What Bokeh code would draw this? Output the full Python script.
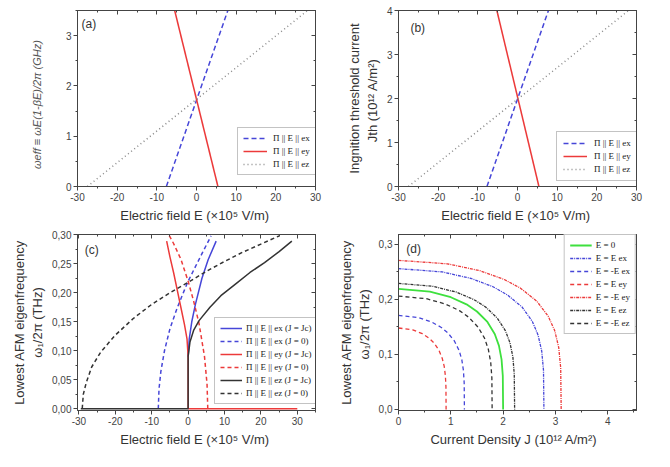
from bokeh.plotting import figure
from bokeh.layouts import gridplot
from bokeh.models import (Range1d, LinearAxis, SingleIntervalTicker, CustomJSTickFormatter,
                          Label)
from bokeh.embed import file_html
from bokeh.resources import INLINE

# ---------------- data ----------------
# (a) effective frequency (GHz) vs E
a_x_E = [-7.6, 7.9]
a_x_w = [0.0, 3.5]
a_y_E = [-5.5, 5.4]
a_y_w = [3.5, 0.0]
a_z_E = [-27.5, 28.0]
a_z_w = [0.0, 3.5]

# (b) ignition threshold current vs E
b_x_E = [-7.7, 7.8]
b_x_J = [0.0, 4.0]
b_y_E = [-5.2, 5.4]
b_y_J = [4.0, 0.0]
b_z_E = [-27.5, 28.0]
b_z_J = [0.0, 4.0]

# (c) lowest AFM eigenfrequency vs E
c_xJc_E = [0.0, 0.3, 1.0, 2.0, 3.8, 5.5, 7.7]
c_xJc_w = [0.09, 0.12, 0.15, 0.18, 0.225, 0.257, 0.289]
c_x0_E = [-8.2, -8.0, -7.5, -6.5, -5.0, -3.0, -1.0, 0.0, 2.0, 4.0, 6.3]
c_x0_w = [0.0, 0.034, 0.064, 0.10, 0.138, 0.174, 0.205, 0.22, 0.245, 0.27, 0.298]
c_yJc_E = [30.0, 0.0, 0.0, -0.3, -1.0, -2.0, -3.0, -4.0, -5.0, -5.9]
c_yJc_w = [0.0, 0.0, 0.09, 0.12, 0.145, 0.175, 0.205, 0.235, 0.262, 0.289]
c_y0_E = [5.4, 5.2, 4.5, 3.0, 1.5, 0.0, -2.0, -4.0, -5.3]
c_y0_w = [0.0, 0.042, 0.09, 0.147, 0.186, 0.22, 0.258, 0.285, 0.30]
c_zJc_E = [-29.5, 0.0, 0.0, 0.5, 1.5, 3.0, 6.0, 9.0, 13.0, 17.0, 21.0, 25.0, 28.5]
c_zJc_w = [0.0, 0.0, 0.09, 0.115, 0.135, 0.152, 0.175, 0.195, 0.215, 0.235, 0.252, 0.271, 0.289]
c_z0_E = [-29.1, -28.8, -28.0, -26.5, -24.0, -20.0, -15.0, -10.0, -5.0, 0.0, 5.0, 10.0, 15.0, 20.0, 25.0]
c_z0_w = [0.0, 0.025, 0.045, 0.072, 0.098, 0.127, 0.156, 0.18, 0.2, 0.218, 0.237, 0.254, 0.27, 0.284, 0.298]

# (d) lowest AFM eigenfrequency vs current density
d_E0_J = [0, 0.6, 1.0, 1.3, 1.5, 1.7, 1.84, 1.92, 1.97, 1.994, 2.0]
d_E0_w = [0.219, 0.214, 0.204, 0.191, 0.178, 0.159, 0.137, 0.116, 0.091, 0.061, 0.0]
d_px_J = [0, 0.834, 1.39, 1.807, 2.085, 2.363, 2.558, 2.669, 2.738, 2.772, 2.78]
d_px_w = [0.256, 0.250, 0.238, 0.223, 0.208, 0.186, 0.160, 0.135, 0.106, 0.071, 0.0]
d_mx_J = [0, 0.378, 0.63, 0.819, 0.945, 1.071, 1.159, 1.21, 1.241, 1.256, 1.26]
d_mx_w = [0.171, 0.167, 0.159, 0.149, 0.139, 0.124, 0.107, 0.0905, 0.071, 0.0476, 0.0]
d_py_J = [0, 0.273, 0.455, 0.592, 0.683, 0.774, 0.837, 0.874, 0.896, 0.907, 0.91]
d_py_w = [0.148, 0.1446, 0.1377, 0.129, 0.1204, 0.1074, 0.0926, 0.0783, 0.0615, 0.0412, 0.0]
d_my_J = [0, 0.933, 1.555, 2.022, 2.333, 2.644, 2.861, 2.986, 3.063, 3.101, 3.11]
d_my_w = [0.271, 0.2647, 0.2522, 0.2362, 0.2204, 0.1967, 0.1696, 0.1434, 0.1126, 0.0754, 0.0]
d_pz_J = [0, 0.666, 1.11, 1.443, 1.665, 1.887, 2.042, 2.131, 2.187, 2.213, 2.22]
d_pz_w = [0.229, 0.2237, 0.2131, 0.1996, 0.1862, 0.1662, 0.1434, 0.1212, 0.0951, 0.0637, 0.0]
d_mz_J = [0, 0.537, 0.895, 1.164, 1.343, 1.522, 1.647, 1.718, 1.763, 1.785, 1.79]
d_mz_w = [0.206, 0.2012, 0.1917, 0.1796, 0.1675, 0.1495, 0.129, 0.109, 0.0856, 0.0573, 0.0]

lab_ab = ["Π || E || ex", "Π || E || ey", "Π || E || ez"]
lab_c = ["Π || E || ex (J = Jc)", "Π || E || ex (J = 0)",
         "Π || E || ey (J = Jc)", "Π || E || ey (J = 0)",
         "Π || E || ez (J = Jc)", "Π || E || ez (J = 0)"]
lab_d = ["E = 0", "E = E ex", "E = -E ex", "E = E ey", "E = -E ey", "E = E ez", "E = -E ez"]

BLUE = "#4646d8"
RED = "#ec3a3a"
GRAY = "#8a8a8a"
BLACK = "#333333"
GREEN = "#3ee03e"
FONT = "Liberation Sans"
SERIF = "Liberation Serif"


def make_fig(xr, yr, w, h, bl, br, bt, bb, xint, yint, xlabel, ylabel, xfmt, yfmt):
    p = figure(width=w, height=h, x_range=Range1d(*xr), y_range=Range1d(*yr),
               output_backend="svg", toolbar_location=None,
               min_border_left=bl, min_border_right=br, min_border_top=bt,
               min_border_bottom=bb)
    p.grid.visible = False
    p.outline_line_color = "#444444"
    p.background_fill_color = "white"
    xt = SingleIntervalTicker(interval=xint, num_minor_ticks=2)
    yt = SingleIntervalTicker(interval=yint, num_minor_ticks=2)
    p.xaxis.ticker = xt
    p.yaxis.ticker = yt
    for ax in (p.xaxis[0], p.yaxis[0]):
        ax.axis_line_color = "#444444"
        ax.major_tick_line_color = "#444444"
        ax.minor_tick_line_color = "#444444"
        ax.major_tick_out = 4
        ax.major_tick_in = 0
        ax.minor_tick_out = 2
        ax.minor_tick_in = 0
        ax.major_label_text_font = FONT
        ax.major_label_text_font_size = "10px"
        ax.major_label_text_color = "#444444"
        ax.axis_label_text_font = FONT
        ax.axis_label_text_font_style = "normal"
        ax.axis_label_text_color = "#333333"
        ax.axis_label_text_font_size = "13px"
        ax.major_label_standoff = 2
    p.xaxis.axis_label = xlabel
    p.yaxis.axis_label = ylabel
    p.xaxis.axis_label_standoff = 4
    p.yaxis.axis_label_standoff = 4
    p.xaxis.formatter = CustomJSTickFormatter(code=xfmt)
    p.yaxis.formatter = CustomJSTickFormatter(code=yfmt)
    for loc, tk in (("above", xt), ("right", yt)):
        ax = LinearAxis(ticker=tk, formatter=CustomJSTickFormatter(code="return ''"),
                        major_label_standoff=0,
                        major_tick_in=4, major_tick_out=0, minor_tick_in=2, minor_tick_out=0,
                        axis_line_color="#444444", major_tick_line_color="#444444",
                        minor_tick_line_color="#444444")
        p.add_layout(ax, loc)
    return p


def style_legend(p, loc, glyph_w=22, standoff=4, pad=5):
    lg = p.legend[0]
    lg.location = loc
    lg.label_text_font = SERIF
    lg.label_text_font_size = "9px"
    lg.label_text_color = "#222222"
    lg.glyph_width = glyph_w
    lg.glyph_height = 10
    lg.label_height = 10
    lg.spacing = 3
    lg.padding = pad
    lg.margin = 0
    lg.label_standoff = standoff
    lg.border_line_color = "#888888"
    lg.border_line_width = 1
    lg.background_fill_alpha = 1.0


def panel_label(p, x, y, t):
    p.add_layout(Label(x=x, y=y, text=t, text_font=FONT, text_font_size="12px",
                       text_baseline="top", text_color="#333333"))


XLAB = "Electric field  E (×10⁵ V/m)"
INTFMT = "return tick.toFixed(0)"

# (a)
pa = make_fig((-30, 30), (0, 3.5), 335, 230, 77, 20, 10, 44, 10, 1, XLAB,
              "ωeff ≡ ωE(1-βE)/2π     (GHz)", INTFMT, INTFMT)
pa.yaxis.axis_label_text_font_size = "11px"
pa.yaxis.axis_label_text_font_style = "italic"
pa.yaxis.axis_label_text_color = "#555555"
pa.yaxis.axis_label_standoff = 20
pa.line(a_x_E, a_x_w, color=BLUE, line_width=1.5, line_dash="5 3", legend_label=lab_ab[0])
pa.line(a_y_E, a_y_w, color=RED, line_width=1.5, legend_label=lab_ab[1])
pa.line(a_z_E, a_z_w, color=GRAY, line_width=1.5, line_dash="1 3", legend_label=lab_ab[2])
style_legend(pa, (160, 11), glyph_w=24, standoff=6)
panel_label(pa, -29, 3.38, "(a)")

# (b)
pb = make_fig((-30, 30), (0, 4), 335, 230, 53, 34, 10, 44, 10, 1, XLAB,
              "Ingnition threshold current\nJth  (10¹² A/m²)", INTFMT, INTFMT)
pb.line(b_x_E, b_x_J, color=BLUE, line_width=1.5, line_dash="5 3", legend_label=lab_ab[0])
pb.line(b_y_E, b_y_J, color=RED, line_width=1.5, legend_label=lab_ab[1])
pb.line(b_z_E, b_z_J, color=GRAY, line_width=1.5, line_dash="1 3", legend_label=lab_ab[2])
style_legend(pb, (158, 5), glyph_w=24, standoff=7, pad=6)
panel_label(pb, -27, 3.76, "(b)")

# (c)
pc = make_fig((-30.4, 35), (-0.003, 0.3005), 335, 237, 76, 20, 3, 57, 10, 0.05, XLAB,
              "Lowest AFM eigenfrequency\nω₁/2π (THz)", INTFMT,
              "return tick.toFixed(2).replace('.', ',')")
pc.line(c_xJc_E, c_xJc_w, color=BLUE, line_width=1.5, legend_label=lab_c[0])
pc.line(c_x0_E, c_x0_w, color=BLUE, line_width=1.5, line_dash="4 3", legend_label=lab_c[1])
pc.line(c_yJc_E, c_yJc_w, color=RED, line_width=1.5, legend_label=lab_c[2])
pc.line(c_y0_E, c_y0_w, color=RED, line_width=1.5, line_dash="4 3", legend_label=lab_c[3])
pc.line(c_zJc_E, c_zJc_w, color=BLACK, line_width=1.5, legend_label=lab_c[4])
pc.line(c_z0_E, c_z0_w, color=BLACK, line_width=1.5, line_dash="4 3", legend_label=lab_c[5])
style_legend(pc, (137, 6))
panel_label(pc, -28.4, 0.285, "(c)")

# (d)
pd_ = make_fig((0, 4.55), (-0.002, 0.318), 335, 237, 59, 33, 4, 57, 1, 0.1,
               "Current Density  J  (10¹² A/m²)",
               "Lowest AFM eigenfrequency\nω₁/2π  (THz)", INTFMT,
               "return tick.toFixed(1).replace('.', ',')")
pd_.line(d_E0_J, d_E0_w, color=GREEN, line_width=1.8, legend_label=lab_d[0])
pd_.line(d_px_J, d_px_w, color=BLUE, line_width=1.3, line_dash="3 1 1 1", legend_label=lab_d[1])
pd_.line(d_mx_J, d_mx_w, color=BLUE, line_width=1.3, line_dash="4 3", legend_label=lab_d[2])
pd_.line(d_py_J, d_py_w, color=RED, line_width=1.3, line_dash="4 3", legend_label=lab_d[3])
pd_.line(d_my_J, d_my_w, color=RED, line_width=1.3, line_dash="3 1 1 1", legend_label=lab_d[4])
pd_.line(d_pz_J, d_pz_w, color=BLACK, line_width=1.3, line_dash="3 1 1 1", legend_label=lab_d[5])
pd_.line(d_mz_J, d_mz_w, color=BLACK, line_width=1.3, line_dash="4 3", legend_label=lab_d[6])
style_legend(pd_, "top_right")
panel_label(pd_, 0.15, 0.304, "(d)")

grid = gridplot([[pa, pb], [pc, pd_]], toolbar_location=None)
open("out.html", "w").write(file_html(grid, INLINE))
